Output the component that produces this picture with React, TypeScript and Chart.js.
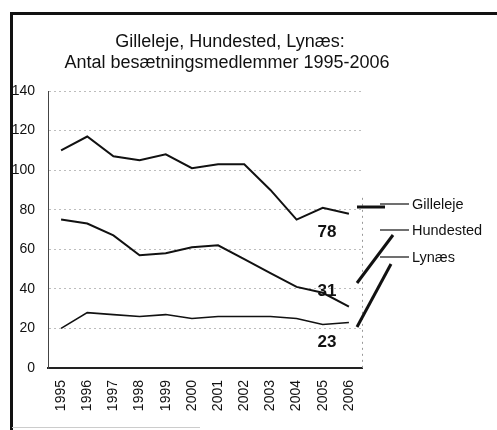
import React, { useEffect, useRef } from "react";
import { Chart, registerables } from "chart.js";

Chart.register(...registerables);

const years = ["1995", "1996", "1997", "1998", "1999", "2000", "2001", "2002", "2003", "2004", "2005", "2006"];
const gilleleje = [110, 117, 107, 105, 108, 101, 103, 103, 90, 75, 81, 78];
const hundested = [75, 73, 67, 57, 58, 61, 62, 55, 48, 41, 38, 31];
const lynaes = [20, 28, 27, 26, 27, 25, 26, 26, 26, 25, 22, 23];
const seriesNames = ["Gilleleje", "Hundested", "Lynæs"];
const titleLines = ["Gilleleje, Hundested, Lynæs:", "Antal besætningsmedlemmer 1995-2006"];
const yTicks = [0, 20, 40, 60, 80, 100, 120, 140];

const FONT = '"Liberation Sans", Arial, Helvetica, sans-serif';

const decorPlugin = {
  id: "decor",
  beforeDraw(chart: any) {
    const ctx = chart.ctx;
    ctx.save();
    ctx.fillStyle = "#ffffff";
    ctx.fillRect(0, 0, chart.width, chart.height);
    ctx.restore();
  },
  afterDraw(chart: any) {
    const ctx = chart.ctx;
    const area = chart.chartArea;
    const yScale = chart.scales.y;
    ctx.save();
    // frame
    ctx.strokeStyle = "#111";
    ctx.lineWidth = 3;
    ctx.beginPath();
    ctx.moveTo(11.5, chart.height);
    ctx.lineTo(11.5, 13.5);
    ctx.lineTo(chart.width, 13.5);
    ctx.stroke();
    ctx.strokeStyle = "#ccc";
    ctx.lineWidth = 1;
    ctx.beginPath();
    ctx.moveTo(12, 427.5);
    ctx.lineTo(200, 427.5);
    ctx.stroke();

    // right dashed edge
    ctx.strokeStyle = "#999";
    ctx.setLineDash([2, 4]);
    ctx.beginPath();
    ctx.moveTo(area.right + 0.5, yScale.getPixelForValue(86));
    ctx.lineTo(area.right + 0.5, area.bottom);
    ctx.stroke();
    ctx.setLineDash([]);

    // title
    ctx.fillStyle = "#111";
    ctx.font = `18px ${FONT}`;
    ctx.textAlign = "center";
    ctx.textBaseline = "middle";
    ctx.fillText(titleLines[0], 230, 42);
    ctx.fillText(titleLines[1], 227, 63);

    // end value labels
    const offsets = [19, -15, 20];
    ctx.font = `bold 17px ${FONT}`;
    chart.data.datasets.forEach((ds: any, i: number) => {
      const meta = chart.getDatasetMeta(i);
      const last = meta.data[meta.data.length - 1];
      const v = ds.data[ds.data.length - 1];
      ctx.fillText(String(v), last.x - 22, last.y + offsets[i]);
    });

    // legend
    const lx = area.right + 50;
    const legendY = [205, 231, 258];
    ctx.font = `14.5px ${FONT}`;
    ctx.textAlign = "left";
    seriesNames.forEach((name, i) => {
      ctx.fillText(name, lx, legendY[i]);
      ctx.strokeStyle = "#111";
      ctx.lineWidth = 1.2;
      ctx.beginPath();
      ctx.moveTo(area.right + 18, legendY[i] - 1);
      ctx.lineTo(lx - 3, legendY[i] - 1);
      ctx.stroke();
    });
    ctx.lineWidth = 3;
    ctx.beginPath();
    ctx.moveTo(area.right - 5, 207);
    ctx.lineTo(area.right + 23, 207);
    ctx.stroke();
    ctx.beginPath();
    ctx.moveTo(area.right + 31, 235);
    ctx.lineTo(area.right - 5, 283);
    ctx.stroke();
    ctx.beginPath();
    ctx.moveTo(area.right + 29, 264);
    ctx.lineTo(area.right - 5, 327);
    ctx.stroke();
    ctx.restore();
  },
};

export default function App() {
  const ref = useRef<HTMLCanvasElement | null>(null);
  useEffect(() => {
    if (!ref.current) return;
    const chart = new Chart(ref.current, {
      type: "line",
      data: {
        labels: years,
        datasets: [
          { label: seriesNames[0], data: gilleleje, borderColor: "#111", borderWidth: 2, pointRadius: 0, tension: 0 },
          { label: seriesNames[1], data: hundested, borderColor: "#111", borderWidth: 2, pointRadius: 0, tension: 0 },
          { label: seriesNames[2], data: lynaes, borderColor: "#111", borderWidth: 1.6, pointRadius: 0, tension: 0 },
        ],
      },
      options: {
        animation: false,
        responsive: false,
        layout: { padding: { top: 91, left: 10, right: 135, bottom: 0 } },
        plugins: { legend: { display: false }, title: { display: false }, tooltip: { enabled: false } },
        scales: {
          x: {
            offset: true,
            grid: { display: false, drawTicks: false },
            border: { display: true, color: "#222", width: 2 },
            ticks: {
              autoSkip: false,
              minRotation: 90,
              maxRotation: 90,
              padding: 12,
              color: "#111",
              font: { family: FONT, size: 14 },
            },
            afterFit(scale: any) {
              scale.height = 62;
            },
          },
          y: {
            min: 0,
            max: 140,
            afterBuildTicks(scale: any) {
              scale.ticks = yTicks.map((v) => ({ value: v }));
            },
            grid: { color: "#bdbdbd", lineWidth: 1, drawTicks: false },
            border: { display: true, color: "#444", width: 1, dash: [2, 3] },
            ticks: { padding: 13, color: "#111", font: { family: FONT, size: 14 } },
            afterFit(scale: any) {
              scale.width = 38;
            },
          },
        },
      },
      plugins: [decorPlugin],
    } as any);
    return () => chart.destroy();
  }, []);
  return (
    <div style={{ position: "fixed", left: 0, top: 0, width: 497, height: 430, background: "#fff" }}>
      <canvas ref={ref} width={497} height={430} />
    </div>
  );
}
